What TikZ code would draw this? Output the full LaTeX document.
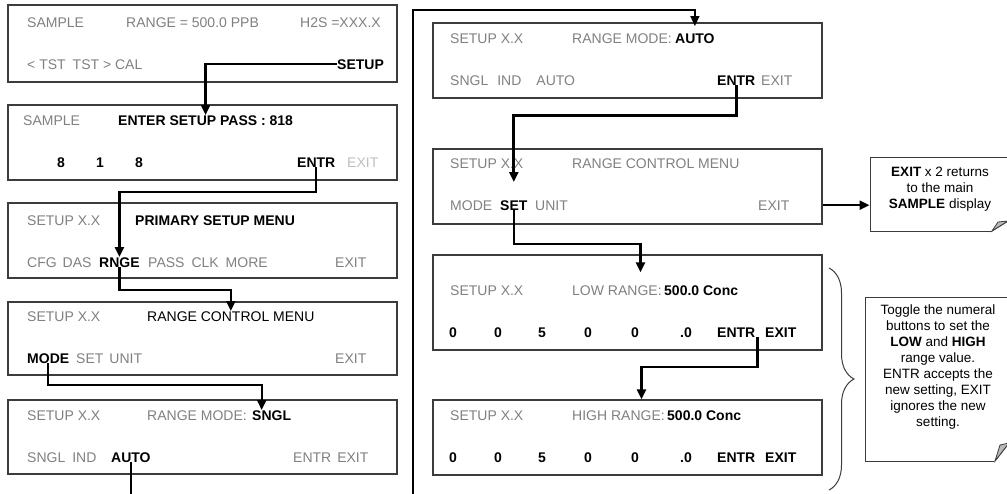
\documentclass[tikz,border=0pt]{standalone}
\usepackage{fontspec}
\setmainfont{Liberation Sans}
\usetikzlibrary{arrows.meta,decorations.pathreplacing}
\definecolor{dim}{RGB}{128,128,128}
\definecolor{faint}{RGB}{190,190,190}
\definecolor{frame}{RGB}{60,60,60}
\begin{document}
\begin{tikzpicture}[x=1pt,y=-1pt,
    scr/.style={draw=frame,line width=1.2pt,minimum width=389pt,minimum height=75pt,inner sep=0pt},
    txt/.style={anchor=base west,inner sep=0pt,font=\fontsize{14}{16}\selectfont},
    dm/.style={txt,text=dim},
    hot/.style={txt,font=\fontsize{14}{16}\selectfont\bfseries},
    key/.style={hot,anchor=base},
    flow/.style={line width=2.2pt,-{Triangle[length=10pt,width=9pt]}},
    tip/.style={draw=frame,line width=1pt,fill=white,inner sep=0pt},
    tiptext/.style={align=center,inner sep=0pt,font=\fontsize{13.5}{16}\selectfont}]
  \useasboundingbox (0,0) rectangle (1007,493);
  \clip (0,0) rectangle (1007,493);
  \coordinate (loop) at (413,10);
  % screens, left column
  \node[scr,minimum height=77pt] (s1) at (202.5,43.5) {};
  \node[scr] (s2) at (202.5,142.5) {};
  \node[scr] (s3) at (202.5,240.5) {};
  \node[scr,minimum height=73pt] (s4) at (202.5,338.5) {};
  \node[scr,minimum height=74pt] (s5) at (202.5,437) {};
  % screens, right column
  \node[scr] (s6) at (627.5,60.5) {};
  \node[scr] (s7) at (627.5,186.5) {};
  \node[scr,minimum height=95pt] (s8) at (627.5,302.5) {};
  \node[scr] (s9) at (627.5,437.5) {};
  % notes
  \node[tip,minimum width=140pt,minimum height=74pt] (n1) at (940,194) {};
  \node[tiptext] (n1t) at (940,189) {\textbf{EXIT} x 2 returns\\to the main\\\textbf{SAMPLE} display};
  \node[tip,minimum width=145pt,minimum height=164pt] (n2) at (937.5,379) {};
  \node[tiptext] (n2t) at (938,367) {Toggle the numeral\\buttons to set the\\\textbf{LOW} and \textbf{HIGH}\\range value.\\ENTR accepts the\\new setting, EXIT\\ignores the new\\setting.};
  \fill[white] (991,232) -- (1012,232) -- (1012,220) -- cycle;
  \draw[frame,line width=1pt] (992,231) -- (1008,221);
  \draw[frame,fill=gray!55,line width=0.8pt] (992,231) -- (998,222) -- (1008,221) -- cycle;
  \fill[white] (994,462) -- (1012,462) -- (1012,441) -- cycle;
  \draw[frame,line width=1pt] (995,461) -- (1009,443);
  \draw[frame,fill=gray!55,line width=0.8pt] (995,461) -- (1000,445) -- (1009,443) -- cycle;
  \draw[frame,line width=1pt,decorate,decoration={brace,amplitude=25pt}] (829,268) -- (829,490);

  % screen 1
  \node[dm] (t1a) at (27,27) {SAMPLE};
  \node[dm] (t1b) at (126,27) {RANGE = 500.0 PPB};
  \node[dm] (t1c) at (300,27) {H2S =XXX.X};
  \node[dm] (t1d) at (27,69) {< TST\hspace{7pt}TST > CAL};
  \node[hot] (setup) at (337,69) {SETUP};
  % screen 2
  \node[dm] (t2a) at (23,125) {SAMPLE};
  \node[hot] (pass) at (118,125) {ENTER SETUP PASS : 818};
  \node[key] (d21) at (61,167) {8};
  \node[key] (d22) at (100,167) {1};
  \node[key] (d23) at (139,167) {8};
  \node[hot] (entra) at (297,167) {ENTR};
  \node[txt,text=faint] (t2b) at (347,167) {EXIT};
  % screen 3
  \node[dm] (t3a) at (27,225) {SETUP X.X};
  \node[hot] (t3b) at (135,225) {PRIMARY SETUP MENU};
  \node[dm] (t3c) at (27,267) {CFG\hspace{6pt}DAS};
  \node[hot] (rnge) at (99,267) {RNGE};
  \node[dm] (t3d) at (148,267) {PASS\hspace{7pt}CLK\hspace{7pt}MORE};
  \node[dm] (t3e) at (335,267) {EXIT};
  % screen 4
  \node[dm] (t4a) at (27,321) {SETUP X.X};
  \node[txt] (rcm) at (147,321) {RANGE CONTROL MENU};
  \node[hot] (mode) at (27,363) {MODE};
  \node[dm] (t4b) at (76,363) {SET\hspace{6pt}UNIT};
  \node[dm] (t4c) at (335,363) {EXIT};
  % screen 5
  \node[dm] (t5a) at (27,420) {SETUP X.X};
  \node[dm] (t5b) at (147,420) {RANGE MODE:};
  \node[hot] (sngl) at (252,420) {SNGL};
  \node[dm] (t5c) at (27,462) {SNGL\hspace{7pt}IND};
  \node[hot] (autoa) at (111,462) {AUTO};
  \node[dm] (t5d) at (293,462) {ENTR\hspace{6pt}EXIT};
  % screen 6
  \node[dm] (t6a) at (450,43) {SETUP X.X};
  \node[dm] (t6b) at (572,43) {RANGE MODE:};
  \node[hot] (autob) at (675,43) {AUTO};
  \node[dm] (t6c) at (450,85) {SNGL\hspace{9pt}IND\hspace{15pt}AUTO};
  \node[hot] (entrb) at (717,85) {ENTR};
  \node[dm] (t6d) at (761,85) {EXIT};
  % screen 7
  \node[dm] (t7a) at (450,168) {SETUP X.X};
  \node[dm] (t7b) at (572,168) {RANGE CONTROL MENU};
  \node[dm] (t7c) at (450,210) {MODE};
  \node[hot] (set) at (500,210) {SET};
  \node[dm] (t7d) at (535,210) {UNIT};
  \node[dm] (exitb) at (758,210) {EXIT};
  % screen 8
  \node[dm] (t8a) at (450,295) {SETUP X.X};
  \node[dm] (t8b) at (572,295) {LOW RANGE:};
  \node[hot] (t8c) at (664,295) {500.0 Conc};
  \node[key] (d81) at (453,337) {0};
  \node[key] (d82) at (498,337) {0};
  \node[key] (d83) at (542,337) {5};
  \node[key] (d84) at (588,337) {0};
  \node[key] (d85) at (635,337) {0};
  \node[key] (d86) at (686,337) {.0};
  \node[hot] (entrc) at (717,337) {ENTR};
  \node[hot] (t8d) at (765,337) {EXIT};
  % screen 9
  \node[dm] (t9a) at (450,420) {SETUP X.X};
  \node[dm] (t9b) at (572,420) {HIGH RANGE:};
  \node[hot] (t9c) at (667,420) {500.0 Conc};
  \node[key] (d91) at (453,462) {0};
  \node[key] (d92) at (498,462) {0};
  \node[key] (d93) at (542,462) {5};
  \node[key] (d94) at (588,462) {0};
  \node[key] (d95) at (635,462) {0};
  \node[key] (d96) at (686,462) {.0};
  \node[hot] (t9d) at (717,462) {ENTR};
  \node[hot] (t9e) at (765,462) {EXIT};

  % key presses
  \draw[flow] (setup.west) -| (pass.north);
  \draw[flow] (entra.south) -- ++(0,25) -| (rnge.north);
  \draw[flow] (rnge.south) -- ++(0,23) -| (rcm.north);
  \draw[flow] (mode.south) -- ++(0,22) -| ([xshift=-10pt]sngl.north);
  \draw[line width=1.3pt,-{Triangle[length=10pt,width=9pt]}] (autoa.south) -- ++(0,60) -| (loop) -| ([yshift=7pt]autob.north);
  \draw[flow,line width=3pt] (entrb.south) -- ++(0,30) -| ([yshift=18pt]set.north);
  \draw[flow] (set.south) -- ++(0,34) -| ([xshift=13pt,yshift=-18pt]s8.north);
  \draw[flow] ([xshift=2pt]entrc.south east) -- ++(0,30) -| ([xshift=14pt]s9.north);
  \draw[flow] (exitb.east -| s7.east) -- (exitb.east -| n1.west);
\end{tikzpicture}
\end{document}
